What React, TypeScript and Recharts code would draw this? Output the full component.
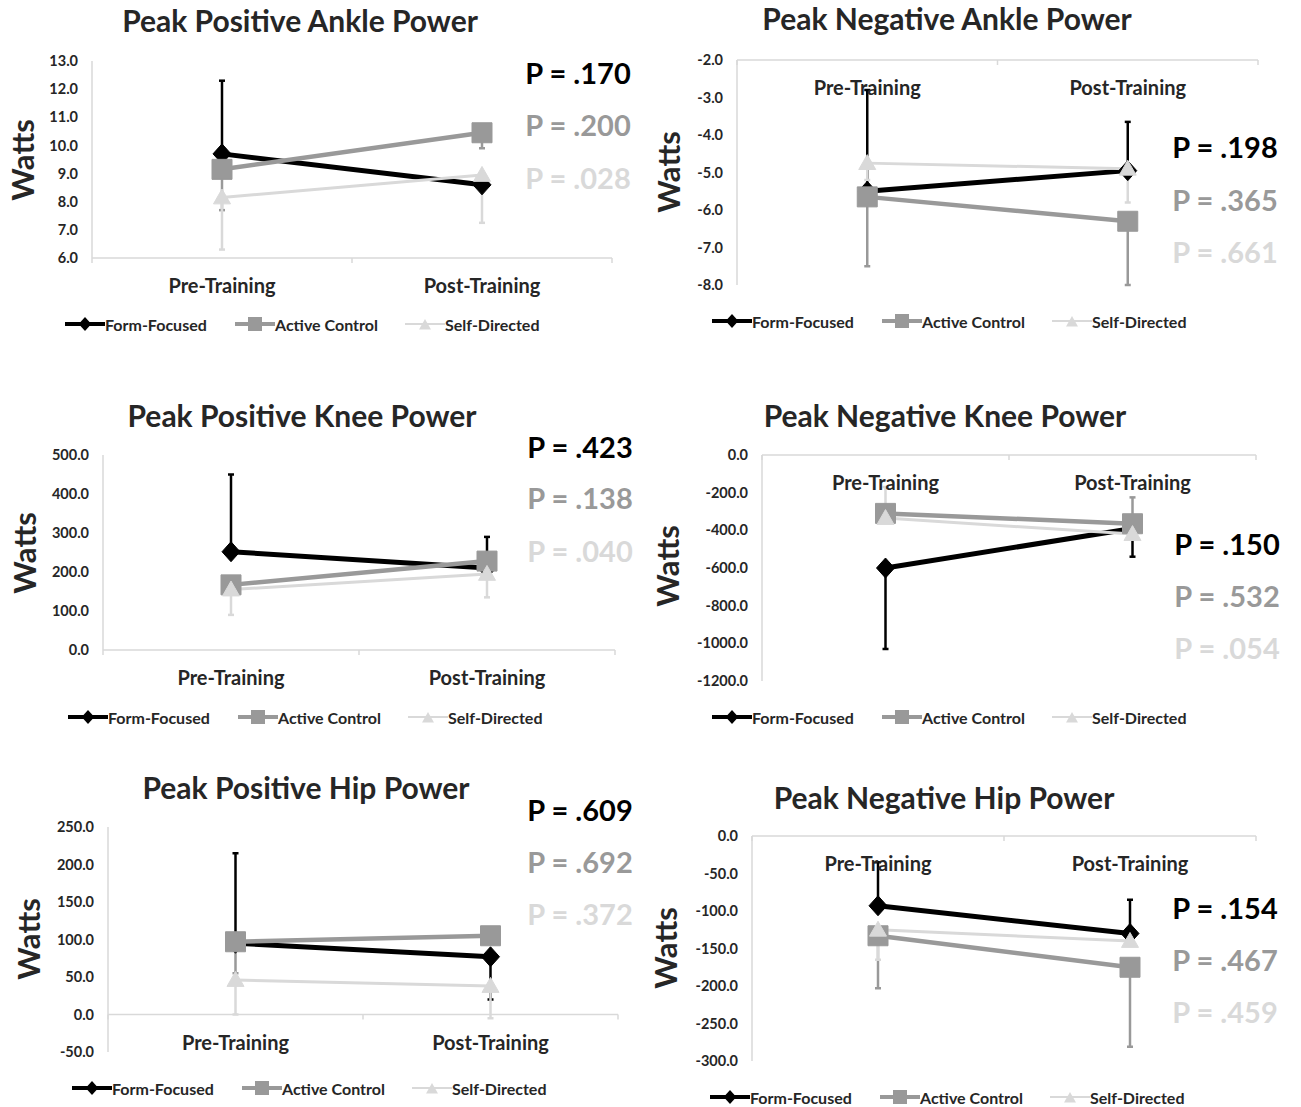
import React from 'react';
import { LineChart, Line, XAxis, YAxis, ErrorBar, ReferenceLine, Legend } from 'recharts';

// ---------- DATA ----------
const categories = ['Pre-Training', 'Post-Training'];
const seriesNames = ['Form-Focused', 'Active Control', 'Self-Directed'];

// Peak Positive Ankle Power
const ankPosTitle = 'Peak Positive Ankle Power';
const ankPosTicks = [6, 7, 8, 9, 10, 11, 12, 13];
const ankPosFF = [9.7, 8.6];
const ankPosFFErr = [12.3, null];
const ankPosAC = [9.15, 10.45];
const ankPosACErr = [7.7, 9.9];
const ankPosSD = [8.15, 8.95];
const ankPosSDErr = [6.3, 7.25];
const ankPosP = ['.170', '.200', '.028'];

// Peak Negative Ankle Power
const ankNegTitle = 'Peak Negative Ankle Power';
const ankNegTicks = [-8, -7, -6, -5, -4, -3, -2];
const ankNegFF = [-5.5, -4.95];
const ankNegFFErr = [-2.8, -3.65];
const ankNegAC = [-5.65, -6.3];
const ankNegACErr = [-7.5, -8.0];
const ankNegSD = [-4.75, -4.9];
const ankNegSDErr = [-5.2, -5.8];
const ankNegP = ['.198', '.365', '.661'];

// Peak Positive Knee Power
const kneePosTitle = 'Peak Positive Knee Power';
const kneePosTicks = [0, 100, 200, 300, 400, 500];
const kneePosFF = [252, 210];
const kneePosFFErr = [450, 290];
const kneePosAC = [167, 228];
const kneePosACErr = [null, null];
const kneePosSD = [155, 195];
const kneePosSDErr = [90, 135];
const kneePosP = ['.423', '.138', '.040'];

// Peak Negative Knee Power
const kneeNegTitle = 'Peak Negative Knee Power';
const kneeNegTicks = [-1200, -1000, -800, -600, -400, -200, 0];
const kneeNegFF = [-600, -390];
const kneeNegFFErr = [-1030, -540];
const kneeNegAC = [-310, -365];
const kneeNegACErr = [null, -225];
const kneeNegSD = [-335, -420];
const kneeNegSDErr = [-170, null];
const kneeNegP = ['.150', '.532', '.054'];

// Peak Positive Hip Power
const hipPosTitle = 'Peak Positive Hip Power';
const hipPosTicks = [-50, 0, 50, 100, 150, 200, 250];
const hipPosFF = [95, 77];
const hipPosFFErr = [215, 20];
const hipPosAC = [97, 105];
const hipPosACErr = [55, null];
const hipPosSD = [46, 38];
const hipPosSDErr = [0, -5];
const hipPosP = ['.609', '.692', '.372'];

// Peak Negative Hip Power
const hipNegTitle = 'Peak Negative Hip Power';
const hipNegTicks = [-300, -250, -200, -150, -100, -50, 0];
const hipNegFF = [-93, -130];
const hipNegFFErr = [-35, -85];
const hipNegAC = [-133, -175];
const hipNegACErr = [-203, -281];
const hipNegSD = [-125, -140];
const hipNegSDErr = [-165, null];
const hipNegP = ['.154', '.467', '.459'];

// ---------- STYLE ----------
const FONT = "Lato, 'Open Sans', 'DejaVu Sans', sans-serif";
const C_FF = '#000000';
const C_AC = '#999999';
const C_SD = '#d9d9d9';
const AXIS = '#d9d9d9';
const TXT = '#262626';
const pColors = [C_FF, C_AC, C_SD];

const errOffsets = (v: number, end: number | null) => {
  if (end === null || end === undefined) return null;
  return end > v ? [0, end - v] : [v - end, 0];
};

const buildData = (ff: number[], ffE: any[], ac: number[], acE: any[], sd: number[], sdE: any[]) =>
  categories.map((c, i) => ({
    x: i + 0.5,
    cat: c,
    ff: ff[i],
    ffErr: errOffsets(ff[i], ffE[i]),
    ac: ac[i],
    acErr: errOffsets(ac[i], acE[i]),
    sd: sd[i],
    sdErr: errOffsets(sd[i], sdE[i]),
  }));

const panels = [
  {
    title: ankPosTitle, ticks: ankPosTicks, cross: ankPosTicks[0], p: ankPosP,
    data: buildData(ankPosFF, ankPosFFErr, ankPosAC, ankPosACErr, ankPosSD, ankPosSDErr),
    lay: { colX: 0, L: 92, R: 612, T: 61, B: 258, tx: 300, ty: 20, px: 578, py: [72, 124, 177], wx: 22, wy: 160, lx: 65, ly: 324 },
  },
  {
    title: ankNegTitle, ticks: ankNegTicks, cross: ankNegTicks[ankNegTicks.length - 1], p: ankNegP,
    data: buildData(ankNegFF, ankNegFFErr, ankNegAC, ankNegACErr, ankNegSD, ankNegSDErr),
    lay: { colX: 650, L: 737, R: 1258, T: 60, B: 285, tx: 947, ty: 18, px: 1225, py: [146, 199, 251], wx: 668, wy: 172, lx: 712, ly: 321 },
  },
  {
    title: kneePosTitle, ticks: kneePosTicks, cross: 0, p: kneePosP,
    data: buildData(kneePosFF, kneePosFFErr, kneePosAC, kneePosACErr, kneePosSD, kneePosSDErr),
    lay: { colX: 0, L: 103, R: 615, T: 455, B: 650, tx: 302, ty: 415, px: 580, py: [446, 497, 550], wx: 24, wy: 553, lx: 68, ly: 717 },
  },
  {
    title: kneeNegTitle, ticks: kneeNegTicks, cross: 0, p: kneeNegP,
    data: buildData(kneeNegFF, kneeNegFFErr, kneeNegAC, kneeNegACErr, kneeNegSD, kneeNegSDErr),
    lay: { colX: 650, L: 762, R: 1256, T: 455, B: 681, tx: 945, ty: 415, px: 1227, py: [543, 595, 647], wx: 667, wy: 566, lx: 712, ly: 717 },
  },
  {
    title: hipPosTitle, ticks: hipPosTicks, cross: 0, p: hipPosP,
    data: buildData(hipPosFF, hipPosFFErr, hipPosAC, hipPosACErr, hipPosSD, hipPosSDErr),
    lay: { colX: 0, L: 108, R: 618, T: 827, B: 1052, tx: 306, ty: 787, px: 580, py: [809, 861, 913], wx: 28, wy: 939, lx: 72, ly: 1088 },
  },
  {
    title: hipNegTitle, ticks: hipNegTicks, cross: 0, p: hipNegP,
    data: buildData(hipNegFF, hipNegFFErr, hipNegAC, hipNegACErr, hipNegSD, hipNegSDErr),
    lay: { colX: 650, L: 752, R: 1256, T: 836, B: 1061, tx: 944, ty: 797, px: 1225, py: [907, 959, 1011], wx: 665, wy: 948, lx: 710, ly: 1097 },
  },
];

// ---------- MARKERS ----------
const diamondPath = (cx: number, cy: number, r: number) => `M${cx},${cy - r}L${cx + r * 0.9},${cy}L${cx},${cy + r}L${cx - r * 0.9},${cy}Z`;
const squarePath = (cx: number, cy: number, r: number) => `M${cx - r},${cy - r}H${cx + r}V${cy + r}H${cx - r}Z`;
const trianglePath = (cx: number, cy: number, r: number) => `M${cx},${cy - r}L${cx + r},${cy + r * 0.75}L${cx - r},${cy + r * 0.75}Z`;

const makeDot = (kind: string, color: string, r: number) => (props: any) => {
  const { cx, cy, index } = props;
  if (cx == null || cy == null) return <g key={`e${kind}${index}`} />;
  const d = kind === 'd' ? diamondPath(cx, cy, r) : kind === 's' ? squarePath(cx, cy, r) : trianglePath(cx, cy, r);
  return <path key={`${kind}${index}`} d={d} fill={color} stroke={color} strokeWidth={1} strokeLinejoin="round" />;
};

const legendMarks: any = {
  ff: { kind: 'd', color: C_FF, r: 7, w: 4 },
  ac: { kind: 's', color: C_AC, r: 7, w: 4 },
  sd: { kind: 't', color: C_SD, r: 6, w: 2 },
};

const LegendContent = (props: any) => {
  const payload = props.payload || [];
  const ordered = seriesNames
    .map((n) => payload.find((p: any) => p.value === n))
    .filter(Boolean);
  return (
    <div style={{ display: 'flex', height: 20, alignItems: 'center', fontFamily: FONT, fontWeight: 700, fontSize: 16, color: TXT }}>
      {ordered.map((p: any, i: number) => {
        const m = legendMarks[p.dataKey] || legendMarks.ff;
        const d = m.kind === 'd' ? diamondPath(20, 10, m.r) : m.kind === 's' ? squarePath(20, 10, m.r) : trianglePath(20, 11, m.r);
        return (
          <div key={i} style={{ display: 'flex', alignItems: 'center', width: 170 }}>
            <svg width={40} height={20} style={{ display: 'block' }}>
              <line x1={0} x2={40} y1={10} y2={10} stroke={m.color} strokeWidth={m.w} />
              <path d={d} fill={m.color} />
            </svg>
            <span style={{ whiteSpace: 'nowrap' }}>{p.value}</span>
          </div>
        );
      })}
    </div>
  );
};

const Panel = ({ panel }: any) => {
  const { lay, ticks, cross, data } = panel;
  const yMin = ticks[0];
  const yMax = ticks[ticks.length - 1];
  const plotH = lay.B - lay.T;
  const top = lay.T - 10;
  const H = lay.ly + 16 - top;
  const W = lay.R - lay.colX + 10;
  const yAxisW = 60;
  const xAxisH = 1;
  const margin = { top: 10, right: 10, left: lay.L - lay.colX - yAxisW, bottom: H - 10 - plotH - xAxisH };
  const crossY = 10 + (plotH * (yMax - cross)) / (yMax - yMin);

  const XTick = (props: any) => {
    const { x, payload } = props;
    const v = payload.value;
    if (Number.isInteger(v)) {
      return <line x1={x} x2={x} y1={crossY} y2={crossY + 5} stroke={AXIS} strokeWidth={1.5} />;
    }
    return (
      <text x={x} y={crossY + 27} textAnchor="middle" dominantBaseline="central" fontFamily={FONT} fontWeight={700} fontSize={20} fill={TXT}>
        {categories[Math.floor(v)]}
      </text>
    );
  };

  return (
    <div style={{ position: 'absolute', left: lay.colX, top }}>
      <LineChart width={W} height={H} data={data} margin={margin}>
        <XAxis
          dataKey="x"
          type="number"
          domain={[0, 2]}
          ticks={[0, 0.5, 1, 1.5, 2]}
          interval={0}
          axisLine={false}
          tickLine={false}
          tickSize={0}
          tickMargin={0}
          height={xAxisH}
          tick={XTick}
        />
        <YAxis
          type="number"
          domain={[yMin, yMax]}
          ticks={ticks}
          interval={0}
          width={yAxisW}
          tickFormatter={(v: number) => v.toFixed(1)}
          axisLine={{ stroke: AXIS, strokeWidth: 1.5 }}
          tickLine={false}
          tickSize={6}
          tickMargin={8}
          tick={{ fontFamily: FONT, fontWeight: 700, fontSize: 14.5, fill: TXT }}
        />
        <ReferenceLine y={cross} stroke={AXIS} strokeWidth={1.5} ifOverflow="visible" />
        <Line dataKey="ff" name={seriesNames[0]} stroke={C_FF} strokeWidth={5} dot={makeDot('d', C_FF, 10)} isAnimationActive={false}>
          <ErrorBar dataKey="ffErr" direction="y" width={3} stroke={C_FF} strokeWidth={2.5} />
        </Line>
        <Line dataKey="ac" name={seriesNames[1]} stroke={C_AC} strokeWidth={4.5} dot={makeDot('s', C_AC, 10)} isAnimationActive={false}>
          <ErrorBar dataKey="acErr" direction="y" width={3} stroke={C_AC} strokeWidth={2.5} />
        </Line>
        <Line dataKey="sd" name={seriesNames[2]} stroke={C_SD} strokeWidth={3} dot={makeDot('t', C_SD, 8.5)} isAnimationActive={false}>
          <ErrorBar dataKey="sdErr" direction="y" width={3} stroke={C_SD} strokeWidth={2.5} />
        </Line>
        <Legend
          layout="horizontal"
          verticalAlign="middle"
          align="center"
          content={LegendContent}
          wrapperStyle={{ left: lay.lx - lay.colX, top: lay.ly - 10 - top, width: 520, height: 20, bottom: 'auto', right: 'auto' }}
        />
      </LineChart>
    </div>
  );
};

const centered = (x: number, y: number, extra: any = {}) => ({
  position: 'absolute' as const,
  left: x,
  top: y,
  transform: 'translate(-50%, -50%)',
  whiteSpace: 'nowrap' as const,
  fontFamily: FONT,
  fontWeight: 700,
  lineHeight: 1,
  ...extra,
});

export default function App() {
  return (
    <div style={{ position: 'absolute', left: 0, top: 0, width: 1301, height: 1107, overflow: 'hidden', background: '#ffffff' }}>
      {panels.map((p, i) => (
        <Panel key={i} panel={p} />
      ))}
      {panels.map((p, i) => (
        <React.Fragment key={`t${i}`}>
          <div style={centered(p.lay.tx, p.lay.ty, { fontSize: 30, color: TXT })}>{p.title}</div>
          <div style={centered(p.lay.wx, p.lay.wy, { fontSize: 31, color: TXT, transform: 'translate(-50%, -50%) rotate(-90deg)' })}>Watts</div>
          {p.p.map((v: string, j: number) => (
            <div key={j} style={centered(p.lay.px, p.lay.py[j], { fontSize: 29, color: pColors[j] })}>{`P = ${v}`}</div>
          ))}
        </React.Fragment>
      ))}
    </div>
  );
}
